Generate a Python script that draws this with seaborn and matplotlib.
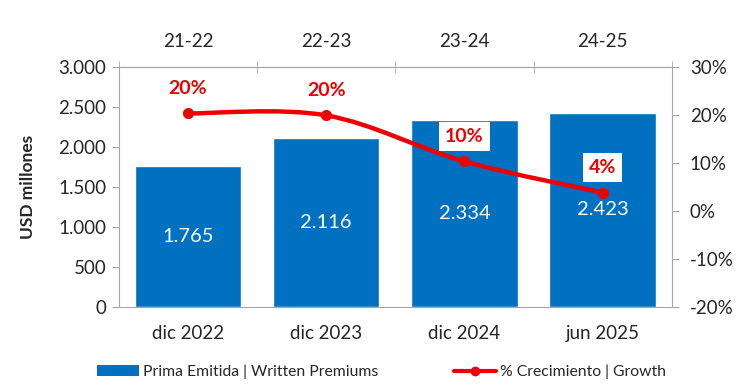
import numpy as np
import pandas as pd
import matplotlib
matplotlib.use("Agg")
import matplotlib.pyplot as plt
import seaborn as sns
from matplotlib.path import Path
from matplotlib.patches import PathPatch, Patch
from matplotlib.lines import Line2D
from matplotlib.ticker import FuncFormatter

# datos
fechas = ["dic 2022", "dic 2023", "dic 2024", "jun 2025"]
periodos = ["21-22", "22-23", "23-24", "24-25"]
primas = [1765, 2116, 2334, 2423]
crecimiento = [20.3, 19.9, 10.3, 3.8]

AZUL = "#0070C0"
ROJO = "#EE0000"
GRIS = "#A6A6A6"

sns.set_style("white")
plt.rcParams["font.family"] = ["Lato", "DejaVu Sans"]

df = pd.DataFrame({"fecha": fechas, "prima": primas, "crec": crecimiento})

fig, ax = plt.subplots(figsize=(7.48, 3.91), dpi=100)
fig.subplots_adjust(left=0.159, right=0.898, top=0.829, bottom=0.215)

sns.barplot(data=df, x="fecha", y="prima", color=AZUL, saturation=1,
            width=0.77, ax=ax)
ax.set_xlim(-0.5, 3.5)
ax.set_ylim(0, 3000)
ax.set_yticks(range(0, 3001, 500))
ax.yaxis.set_major_formatter(FuncFormatter(lambda v, p: f"{int(v):,}".replace(",", ".")))
ax.set_xlabel("")
ax.set_ylabel("USD millones", fontsize=12.5, fontweight="bold", labelpad=16)
ax.tick_params(axis="y", direction="out", length=5, color=GRIS, labelsize=13.5, pad=4, left=True)
ax.tick_params(axis="x", length=0, labelsize=13.5, pad=13)
for s in ["left", "bottom", "top"]:
    ax.spines[s].set_color(GRIS)
ax.spines["right"].set_visible(False)

etq = [f"{v:,}".replace(",", ".") for v in primas]
ax.bar_label(ax.containers[0], labels=etq, label_type="center", color="white", fontsize=14.5)

# eje superior con periodos
sec = ax.secondary_xaxis("top")
sec.set_xticks(range(len(periodos)), labels=periodos)
sec.set_xticks(np.arange(-0.5, 4, 1), minor=True)
sec.tick_params(which="major", length=0, labelsize=13.5, pad=12)
sec.tick_params(which="minor", direction="inout", length=8, color=GRIS)
sec.spines["top"].set_color(GRIS)

# eje secundario: crecimiento
ax2 = ax.twinx()
ax2.set_ylim(-20, 30)
ax2.set_yticks(range(-20, 31, 10))
ax2.yaxis.set_major_formatter(FuncFormatter(lambda v, p: f"{int(v)}%"))
ax2.tick_params(axis="y", direction="out", length=5, color=GRIS, labelsize=13.5, pad=8, right=True)
for s in ["left", "top", "bottom"]:
    ax2.spines[s].set_visible(False)
ax2.spines["right"].set_color(GRIS)

# linea suavizada (bezier tipo Catmull-Rom)
xs = np.arange(len(crecimiento), dtype=float)
pts = np.column_stack([xs, crecimiento])
ext = np.vstack([pts[0], pts, pts[-1]])
verts = [tuple(pts[0])]
codes = [Path.MOVETO]
for i in range(1, len(ext) - 2):
    p0, p1, p2, p3 = ext[i - 1], ext[i], ext[i + 1], ext[i + 2]
    c1 = p1 + (p2 - p0) / 6
    c2 = p2 - (p3 - p1) / 6
    verts += [tuple(c1), tuple(c2), tuple(p2)]
    codes += [Path.CURVE4] * 3
ax2.add_patch(PathPatch(Path(verts, codes), facecolor="none", edgecolor=ROJO, lw=3.2,
                        capstyle="round", zorder=3))
sns.scatterplot(x=xs, y=crecimiento, color=ROJO, s=55, edgecolor=ROJO, zorder=4,
                ax=ax2, legend=False)

for x, v in zip(xs, crecimiento):
    ax2.annotate(f"{v:.0f}%", (x, v), xytext=(0, 25), textcoords="offset pixels",
                 ha="center", va="center", color=ROJO, fontsize=14, fontweight="bold",
                 bbox=dict(boxstyle="square,pad=0.3", fc="white", ec="none"), zorder=5)

handles = [Patch(facecolor=AZUL, edgecolor="none"),
           Line2D([0], [0], color=ROJO, lw=3, marker="o", markersize=6)]
fig.legend(handles, ["Prima Emitida | Written Premiums", "% Crecimiento | Growth"],
           loc="center", bbox_to_anchor=(0.51, 0.048), ncol=2, frameon=False,
           fontsize=11.3, columnspacing=4.8, handlelength=2.7, handletextpad=0.25)

fig.savefig("out.png", dpi=100)
